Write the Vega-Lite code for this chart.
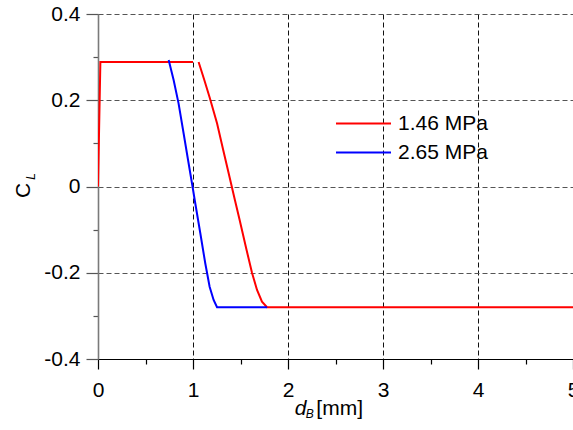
{
  "$schema": "https://vega.github.io/schema/vega-lite/v6.json",
  "width": 475,
  "height": 345,
  "autosize": "none",
  "padding": {"left": 98, "top": 14, "right": 0, "bottom": 71},
  "background": "white",
  "config": {
    "font": "Liberation Sans",
    "view": {"stroke": null},
    "axis": {"labelColor": "#000", "titleColor": "#000", "labelFont": "Liberation Sans", "titleFont": "Liberation Sans"}
  },
  "datasets": {
    "curves": [
      {"d": 0, "cl": 0, "series": "1.46 MPa", "part": "r1"},
      {"d": 0.025, "cl": 0.2887, "series": "1.46 MPa", "part": "r1"},
      {"d": 1.0, "cl": 0.2887, "series": "1.46 MPa", "part": "r1"},
      {"d": 1.059, "cl": 0.2887, "series": "1.46 MPa", "part": "r2"},
      {"d": 1.119, "cl": 0.247, "series": "1.46 MPa", "part": "r2"},
      {"d": 1.177, "cl": 0.2052, "series": "1.46 MPa", "part": "r2"},
      {"d": 1.253, "cl": 0.1466, "series": "1.46 MPa", "part": "r2"},
      {"d": 1.318, "cl": 0.0846, "series": "1.46 MPa", "part": "r2"},
      {"d": 1.384, "cl": 0.0227, "series": "1.46 MPa", "part": "r2"},
      {"d": 1.441, "cl": -0.0313, "series": "1.46 MPa", "part": "r2"},
      {"d": 1.491, "cl": -0.0777, "series": "1.46 MPa", "part": "r2"},
      {"d": 1.564, "cl": -0.1473, "series": "1.46 MPa", "part": "r2"},
      {"d": 1.621, "cl": -0.1999, "series": "1.46 MPa", "part": "r2"},
      {"d": 1.674, "cl": -0.24, "series": "1.46 MPa", "part": "r2"},
      {"d": 1.726, "cl": -0.2671, "series": "1.46 MPa", "part": "r2"},
      {"d": 1.779, "cl": -0.2801, "series": "1.46 MPa", "part": "r2"},
      {"d": 5.0, "cl": -0.2801, "series": "1.46 MPa", "part": "r2"},
      {"d": 0.744, "cl": 0.2933, "series": "2.65 MPa", "part": "b1"},
      {"d": 0.796, "cl": 0.247, "series": "2.65 MPa", "part": "b1"},
      {"d": 0.848, "cl": 0.1929, "series": "2.65 MPa", "part": "b1"},
      {"d": 0.901, "cl": 0.1234, "series": "2.65 MPa", "part": "b1"},
      {"d": 0.948, "cl": 0.0614, "series": "2.65 MPa", "part": "b1"},
      {"d": 0.995, "cl": 0.0, "series": "2.65 MPa", "part": "b1"},
      {"d": 1.018, "cl": -0.0313, "series": "2.65 MPa", "part": "b1"},
      {"d": 1.077, "cl": -0.1085, "series": "2.65 MPa", "part": "b1"},
      {"d": 1.129, "cl": -0.178, "series": "2.65 MPa", "part": "b1"},
      {"d": 1.175, "cl": -0.2323, "series": "2.65 MPa", "part": "b1"},
      {"d": 1.217, "cl": -0.2632, "series": "2.65 MPa", "part": "b1"},
      {"d": 1.253, "cl": -0.2801, "series": "2.65 MPa", "part": "b1"},
      {"d": 1.78, "cl": -0.2801, "series": "2.65 MPa", "part": "b1"}
    ]
  },
  "layer": [
    {
      "data": {"name": "curves"},
      "mark": {"type": "line", "strokeWidth": 2, "clip": true},
      "encoding": {
        "x": {
          "field": "d", "type": "quantitative",
          "scale": {"domain": [0, 5], "nice": false, "zero": false},
          "axis": {
            "values": [0, 0.5, 1, 1.5, 2, 2.5, 3, 3.5, 4, 4.5, 5],
            "labelExpr": "datum.value % 1 === 0 ? format(datum.value, 'd') : ''",
            "labelFontSize": 21,
            "labelPadding": 10,
            "labelFlush": false,
            "labelOverlap": false,
            "domainColor": "#000",
            "domainWidth": 1.2,
            "tickColor": "#000",
            "tickWidth": 1.2,
            "tickSize": {"condition": {"test": "datum.value % 1 === 0", "value": 10}, "value": 5},
            "grid": true,
            "gridColor": "#111",
            "gridDash": [5, 3],
            "gridWidth": 1,
            "gridOpacity": {"condition": {"test": "datum.value % 1 === 0", "value": 1}, "value": 0},
            "title": "d",
            "titleFontSize": 21,
            "titleFontStyle": "italic",
            "titleFontWeight": "normal",
            "titleAlign": "center",
            "titleBaseline": "alphabetic",
            "titleX": 202,
            "titleY": 55
          }
        },
        "y": {
          "field": "cl", "type": "quantitative",
          "scale": {"domain": [-0.4, 0.4], "nice": false, "zero": false},
          "axis": {
            "values": [-0.4, -0.3, -0.2, -0.1, 0, 0.1, 0.2, 0.3, 0.4],
            "labelExpr": "abs(round(datum.value * 10)) % 2 === 0 ? (datum.value === 0 ? '0' : (datum.value < 0 ? '-' : '') + format(abs(datum.value), '.1f')) : ''",
            "labelFontSize": 21,
            "labelPadding": 6,
            "labelFlush": false,
            "labelOverlap": false,
            "domainColor": "#7a7a7a",
            "domainWidth": 1.6,
            "tickColor": "#555",
            "tickWidth": 1.2,
            "tickSize": {"condition": {"test": "abs(round(datum.value * 10)) % 2 === 0", "value": 12}, "value": 5},
            "grid": true,
            "gridColor": "#555",
            "gridDash": [5, 3],
            "gridWidth": 1,
            "gridOpacity": {"condition": {"test": "abs(round(datum.value * 10)) % 2 === 0", "value": 1}, "value": 0},
            "title": "C",
            "titleFontSize": 21,
            "titleFontStyle": "normal",
            "titleFontWeight": "normal",
            "titleAngle": 270,
            "titleAlign": "center",
            "titleBaseline": "alphabetic",
            "titleX": -69,
            "titleY": 176
          }
        },
        "color": {
          "field": "series", "type": "nominal",
          "scale": {"domain": ["1.46 MPa", "2.65 MPa"], "range": ["#ff0000", "#0000ff"]},
          "legend": {
            "title": null,
            "orient": "none",
            "legendX": 255,
            "legendY": 99,
            "symbolType": "M-5,0H5",
            "symbolSize": 121,
            "symbolStrokeWidth": 2,
            "symbolFillColor": "transparent",
            "labelFontSize": 21,
            "labelFont": "Liberation Sans",
            "labelColor": "#000",
            "labelOffset": 24,
            "rowPadding": 7,
            "padding": 0
          }
        },
        "detail": {"field": "part", "type": "nominal"}
      }
    },
    {
      "data": {"values": [{}]},
      "mark": {"type": "text", "text": "B", "font": "Liberation Sans", "fontSize": 12, "fontStyle": "italic", "align": "center", "baseline": "alphabetic", "color": "#000"},
      "encoding": {"x": {"datum": 2.228}, "y": {"datum": -0.5375}}
    },
    {
      "data": {"values": [{}]},
      "mark": {"type": "text", "text": "[mm]", "font": "Liberation Sans", "fontSize": 21, "align": "left", "baseline": "alphabetic", "color": "#000"},
      "encoding": {"x": {"datum": 2.298}, "y": {"datum": -0.5287}}
    },
    {
      "data": {"values": [{}]},
      "mark": {"type": "text", "text": "L", "font": "Liberation Sans", "fontSize": 12, "fontStyle": "italic", "angle": 270, "align": "center", "baseline": "alphabetic", "color": "#000"},
      "encoding": {"x": {"datum": -0.663}, "y": {"datum": 0.0232}}
    }
  ]
}
